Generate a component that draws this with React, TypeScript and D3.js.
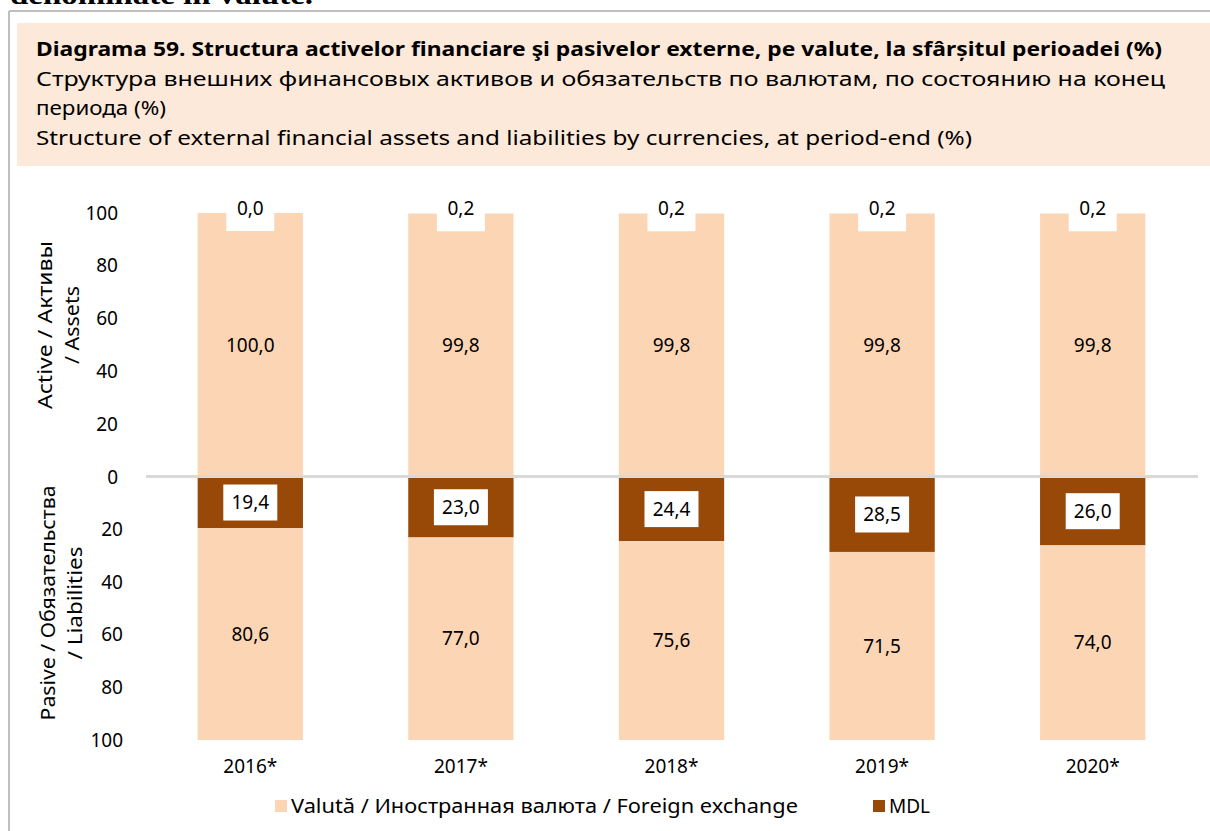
import React from 'react'
import * as d3 from 'd3'

const years = ['2016*', '2017*', '2018*', '2019*', '2020*']
const assetsMDL = [0.0, 0.2, 0.2, 0.2, 0.2]
const assetsFX = [100.0, 99.8, 99.8, 99.8, 99.8]
const liabMDL = [19.4, 23.0, 24.4, 28.5, 26.0]
const liabFX = [80.6, 77.0, 75.6, 71.5, 74.0]
const ticks = [0, 20, 40, 60, 80, 100]

const titleLines = [
  'Diagrama 59. Structura activelor financiare şi pasivelor externe, pe valute, la sfârșitul perioadei (%)',
  'Структура внешних финансовых активов и обязательств по валютам, по состоянию на конец',
  'периода (%)',
  'Structure of external financial assets and liabilities by currencies, at period-end (%)',
]
const legendLabels = ['Valută / Иностранная валюта / Foreign exchange', 'MDL']

const FX = '#fcd5b5'
const MDL = '#984807'
const FONT = '"Noto Sans", "Open Sans", sans-serif'

const fmt = (v: number) => v.toFixed(1).replace('.', ',')

export default function App() {
  const W = 1210
  const H = 831
  const x = d3.scaleBand().domain(years).range([145, 1198]).paddingInner(0.5).paddingOuter(0.25)
  const yUp = d3.scaleLinear().domain([0, 100]).range([477, 213])
  const yDown = d3.scaleLinear().domain([0, 100]).range([477, 740])
  const bw = x.bandwidth()

  return (
    <svg width={W} height={H} style={{ position: 'fixed', left: 0, top: 0, background: '#fff' }} fontFamily={FONT}>
      {/* tail of the previous heading, cut by the page edge */}
      <text x={10} y={4} fontSize={27} fontWeight={700} fontFamily='"Liberation Serif", "DejaVu Serif", serif'
        textLength={303} lengthAdjust="spacingAndGlyphs">denominate în valute.</text>
      <line x1={9} x2={W} y1={11} y2={11} stroke="#bfbfbf" strokeWidth={2} />
      <line x1={9} x2={9} y1={11} y2={H} stroke="#bfbfbf" strokeWidth={2} />
      <rect x={17} y={23} width={W - 17} height={143} fill="#fde9d9" />
      <text x={36} y={56} fontSize={20} fontWeight={700} textLength={1126} lengthAdjust="spacingAndGlyphs">{titleLines[0]}</text>
      <text x={36} y={86} fontSize={20} textLength={1129} lengthAdjust="spacingAndGlyphs">{titleLines[1]}</text>
      <text x={36} y={115} fontSize={20} textLength={130} lengthAdjust="spacingAndGlyphs">{titleLines[2]}</text>
      <text x={36} y={145} fontSize={20} textLength={936} lengthAdjust="spacingAndGlyphs">{titleLines[3]}</text>

      {/* y axis ticks */}
      {ticks.map(t => (
        <text key={'u' + t} x={118} y={yUp(t)} dy="0.35em" textAnchor="end" fontSize={19}>{t}</text>
      ))}
      {ticks.filter(t => t > 0).map(t => (
        <text key={'d' + t} x={123} y={yDown(t)} dy="0.35em" textAnchor="end" fontSize={19}>{t}</text>
      ))}

      <g transform="translate(52,325) rotate(-90)">
        <text textAnchor="middle" fontSize={20} textLength={168} lengthAdjust="spacingAndGlyphs">Active / Активы</text>
        <text y={27} textAnchor="middle" fontSize={20} textLength={78} lengthAdjust="spacingAndGlyphs">/ Assets</text>
      </g>
      <g transform="translate(55,603) rotate(-90)">
        <text textAnchor="middle" fontSize={20} textLength={235} lengthAdjust="spacingAndGlyphs">Pasive / Обязательства</text>
        <text y={27} textAnchor="middle" fontSize={20} textLength={113} lengthAdjust="spacingAndGlyphs">/ Liabilities</text>
      </g>

      {years.map((yr, i) => {
        const x0 = x(yr) as number
        const cx = x0 + bw / 2
        const upMid = (yUp(assetsFX[i]) + yUp(100)) / 2
        const fxUpMid = (yUp(0) + yUp(assetsFX[i])) / 2
        const mdlMid = (yDown(0) + yDown(liabMDL[i])) / 2
        const fxDownMid = (yDown(liabMDL[i]) + yDown(100)) / 2
        return (
          <g key={yr}>
            {/* asset MDL share is under half a pixel, so only the FX part shows */}
            <rect x={x0} y={yUp(assetsFX[i])} width={bw} height={yUp(0) - yUp(assetsFX[i])} fill={FX} />
            <rect x={x0} y={yDown(0)} width={bw} height={yDown(liabMDL[i]) - yDown(0)} fill={MDL} />
            <rect x={x0} y={yDown(liabMDL[i])} width={bw} height={yDown(100) - yDown(liabMDL[i])} fill={FX} />

            <rect x={cx - 24} y={upMid - 18} width={48} height={36} fill="#fff" />
            <text x={cx} y={upMid} dy="0.1em" textAnchor="middle" fontSize={19}>{fmt(assetsMDL[i])}</text>
            <text x={cx} y={fxUpMid} dy="0.35em" textAnchor="middle" fontSize={19}>{fmt(assetsFX[i])}</text>

            <rect x={cx - 27} y={mdlMid - 18} width={54} height={36} fill="#fff" />
            <text x={cx} y={mdlMid} dy="0.35em" textAnchor="middle" fontSize={19}>{fmt(liabMDL[i])}</text>
            <text x={cx} y={fxDownMid} dy="0.35em" textAnchor="middle" fontSize={19}>{fmt(liabFX[i])}</text>

            <text x={cx} y={773} textAnchor="middle" fontSize={19}>{yr}</text>
          </g>
        )
      })}

      <line x1={146} x2={1198} y1={476.5} y2={476.5} stroke="#d9d9d9" strokeWidth={3} />

      <rect x={275} y={800} width={12} height={12} fill={FX} />
      <text x={291} y={813} fontSize={19} textLength={507} lengthAdjust="spacingAndGlyphs">{legendLabels[0]}</text>
      <rect x={873} y={800} width={12} height={12} fill={MDL} />
      <text x={889} y={813} fontSize={19}>{legendLabels[1]}</text>
    </svg>
  )
}
